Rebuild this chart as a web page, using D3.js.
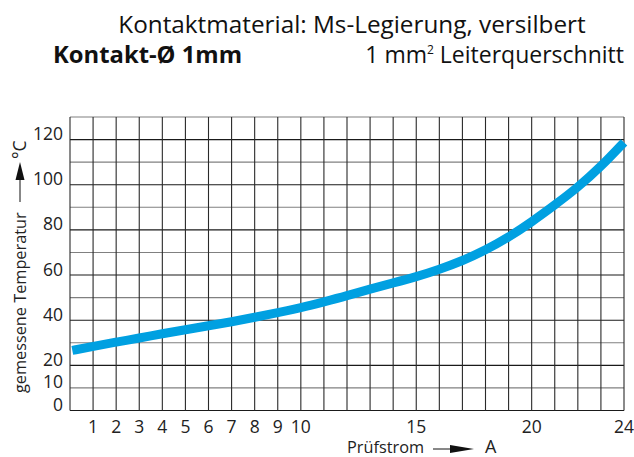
<!DOCTYPE html>
<html>
<head>
<meta charset="utf-8">
<script src="https://cdn.jsdelivr.net/npm/d3@7"></script>
<style>
  body { margin: 0; background: #fff; }
  svg { display: block; font-family: "Open Sans", "Noto Sans", sans-serif; }
</style>
</head>
<body>
<script>
// Measured curve: Prüfstrom (A) vs. gemessene Temperatur (°C)
const current = [0.1, 1, 2, 3, 4, 5, 6, 7, 8, 9, 10, 11, 12, 13, 14, 15, 16, 17, 18, 19, 20, 21, 22, 23, 24];
const temperature = [26.6, 28.4, 30.3, 32.1, 34, 35.8, 37.5, 39.3, 41.3, 43.3, 45.5, 48.1, 50.8, 53.8, 56.5, 59.2, 62.5, 66.3, 71, 76.7, 83.5, 91, 98.8, 108, 118.8];

const xTicks = [1, 2, 3, 4, 5, 6, 7, 8, 9, 10, 15, 20, 24];
const yTicks = [0, 10, 20, 40, 60, 80, 100, 120];

const width = 634, height = 457;
const plot = { left: 70, right: 624, top: 117, bottom: 410.5 };

const svg = d3.select("body").append("svg")
  .attr("width", width)
  .attr("height", height);

const x = d3.scaleLinear().domain([0, 24]).range([plot.left, plot.right]);
const y = d3.scaleLinear().domain([0, 130]).range([plot.bottom, plot.top]);

// grid
const grid = svg.append("g");
grid.selectAll(".hline")
  .data(d3.range(0, 131, 10))
  .enter().append("line")
  .attr("x1", plot.left).attr("x2", plot.right)
  .attr("y1", d => y(d)).attr("y2", d => y(d))
  .attr("stroke", d => (d % 20 === 0 ? "#1a1a1a" : "#808080"))
  .attr("stroke-width", 1.1);

grid.selectAll(".vline")
  .data(d3.range(0, 25, 1))
  .enter().append("line")
  .attr("x1", d => x(d)).attr("x2", d => x(d))
  .attr("y1", plot.top).attr("y2", plot.bottom)
  .attr("stroke", "#2a2a2a")
  .attr("stroke-width", 1.1);

// curve
const line = d3.line()
  .x((d, i) => x(current[i]))
  .y(d => y(d))
  .curve(d3.curveBasis);

svg.append("path")
  .datum(temperature)
  .attr("d", line)
  .attr("fill", "none")
  .attr("stroke", "#00a0e1")
  .attr("stroke-width", 9)
  .attr("stroke-linecap", "butt");

// tick labels
svg.append("g").selectAll("text")
  .data(yTicks)
  .enter().append("text")
  .attr("x", 63)
  .attr("y", d => y(d) + 0.5)
  .attr("text-anchor", "end")
  .attr("font-size", 17.5)
  .attr("fill", "#222")
  .text(d => d);

svg.append("g").selectAll("text")
  .data(xTicks)
  .enter().append("text")
  .attr("x", d => x(d))
  .attr("y", 433)
  .attr("text-anchor", "middle")
  .attr("font-size", 17.5)
  .attr("fill", "#222")
  .text(d => d);

// x axis title with arrow
svg.append("text")
  .attr("x", 347).attr("y", 453)
  .attr("font-size", 16.3)
  .attr("fill", "#222")
  .text("Prüfstrom");
svg.append("line")
  .attr("x1", 433).attr("x2", 452)
  .attr("y1", 449).attr("y2", 449)
  .attr("stroke", "#111").attr("stroke-width", 1);
svg.append("path")
  .attr("d", "M450,445 L474,449 L450,453 Z")
  .attr("fill", "#111");
svg.append("text")
  .attr("x", 485).attr("y", 453)
  .attr("font-size", 18)
  .attr("fill", "#222")
  .text("A");

// y axis title with arrow
const yTitle = svg.append("g").attr("transform", "translate(26,0) rotate(-90)");
yTitle.append("text")
  .attr("x", -393).attr("y", 0)
  .attr("font-size", 16.3)
  .attr("fill", "#222")
  .text("gemessene Temperatur");
yTitle.append("line")
  .attr("x1", -202).attr("x2", -178)
  .attr("y1", -6).attr("y2", -6)
  .attr("stroke", "#111").attr("stroke-width", 1);
yTitle.append("path")
  .attr("d", "M-180,-10.5 L-162,-6 L-180,-1.5 Z")
  .attr("fill", "#111");
yTitle.append("text")
  .attr("x", -159).attr("y", 0)
  .attr("font-size", 17.5)
  .attr("fill", "#222")
  .text("°C");

// header
svg.append("text")
  .attr("x", 352).attr("y", 33)
  .attr("text-anchor", "middle")
  .attr("font-size", 24.3)
  .attr("fill", "#111")
  .text("Kontaktmaterial: Ms-Legierung, versilbert");
svg.append("text")
  .attr("x", 53).attr("y", 63)
  .attr("font-size", 23.8)
  .attr("font-weight", "bold")
  .attr("fill", "#111")
  .text("Kontakt-Ø 1mm");
const sub = svg.append("text")
  .attr("x", 624).attr("y", 63)
  .attr("text-anchor", "end")
  .attr("font-size", 23)
  .attr("fill", "#111");
sub.append("tspan").text("1 mm");
sub.append("tspan").attr("font-size", 12).attr("dy", -9).text("2");
sub.append("tspan").attr("dy", 9).text(" Leiterquerschnitt");
</script>
</body>
</html>
